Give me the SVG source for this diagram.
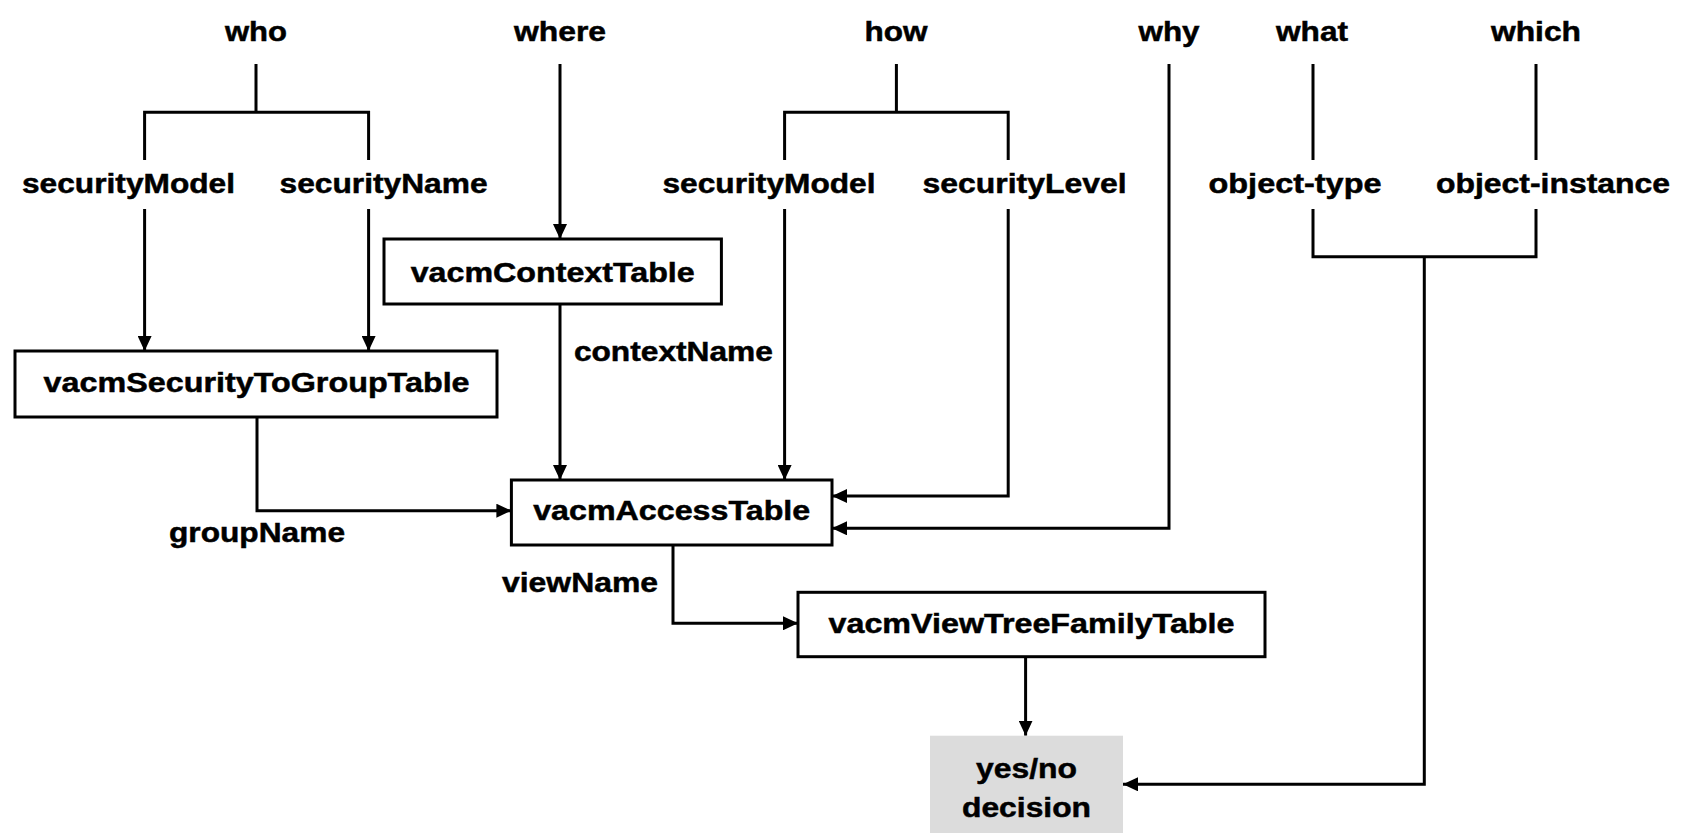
<svg xmlns="http://www.w3.org/2000/svg" width="1681" height="833" viewBox="0 0 1681 833">
  <style>
    text { font-family: "Liberation Sans", Arial, Helvetica, sans-serif; font-weight: 700; font-size: 28px; fill: #000; stroke: #000; stroke-width: 0.5; text-anchor: middle; }
    .box { fill: #fff; stroke: #000; stroke-width: 3; }
    .decision { fill: #dcdcdc; stroke: none; }
    .wire { fill: none; stroke: #000; stroke-width: 3; stroke-linejoin: miter; stroke-linecap: butt; }
  </style>
  <defs>
    <marker id="arrow" markerUnits="userSpaceOnUse" markerWidth="15" markerHeight="14" refX="15" refY="7" orient="auto">
      <path d="M0,0 L15,7 L0,14 z" fill="#000"/>
    </marker>
  </defs>
  <rect width="1681" height="833" fill="#fff"/>

  <!-- question labels -->
  <g id="labels">
    <text x="256" y="41" textLength="62" lengthAdjust="spacingAndGlyphs">who</text>
    <text x="560" y="41" textLength="92" lengthAdjust="spacingAndGlyphs">where</text>
    <text x="896" y="41" textLength="63" lengthAdjust="spacingAndGlyphs">how</text>
    <text x="1169" y="41" textLength="61" lengthAdjust="spacingAndGlyphs">why</text>
    <text x="1312" y="41" textLength="72" lengthAdjust="spacingAndGlyphs">what</text>
    <text x="1536" y="41" textLength="90" lengthAdjust="spacingAndGlyphs">which</text>

    <text x="128.5" y="193" textLength="213" lengthAdjust="spacingAndGlyphs">securityModel</text>
    <text x="383.6" y="193" textLength="208" lengthAdjust="spacingAndGlyphs">securityName</text>
    <text x="769" y="193" textLength="213" lengthAdjust="spacingAndGlyphs">securityModel</text>
    <text x="1024.5" y="193" textLength="204" lengthAdjust="spacingAndGlyphs">securityLevel</text>
    <text x="1295" y="193" textLength="173" lengthAdjust="spacingAndGlyphs">object-type</text>
    <text x="1553" y="193" textLength="234" lengthAdjust="spacingAndGlyphs">object-instance</text>

    <text x="673.4" y="361" textLength="199" lengthAdjust="spacingAndGlyphs">contextName</text>
    <text x="257" y="542" textLength="176" lengthAdjust="spacingAndGlyphs">groupName</text>
    <text x="580" y="592" textLength="156" lengthAdjust="spacingAndGlyphs">viewName</text>
  </g>

  <!-- connectors -->
  <g id="connectors" class="wire">
    <!-- who branches -->
    <path class="wire" d="M256,64 V112.3 M144.6,160 V112.3 H368.6 V160"/>
    <path class="wire" d="M144.6,209 V351" marker-end="url(#arrow)"/>
    <path class="wire" d="M368.6,209 V351" marker-end="url(#arrow)"/>
    <!-- where -->
    <path class="wire" d="M560,64 V239" marker-end="url(#arrow)"/>
    <path class="wire" d="M560,304 V480" marker-end="url(#arrow)"/>
    <!-- groupName -->
    <path class="wire" d="M257,417 V510.7 H511.4" marker-end="url(#arrow)"/>
    <!-- how branches -->
    <path class="wire" d="M896.4,64 V112.3 M784.6,160 V112.3 H1008.2 V160"/>
    <path class="wire" d="M784.6,209 V480" marker-end="url(#arrow)"/>
    <path class="wire" d="M1008.2,209 V496 H832" marker-end="url(#arrow)"/>
    <!-- why -->
    <path class="wire" d="M1169,64 V528.3 H832" marker-end="url(#arrow)"/>
    <!-- viewName -->
    <path class="wire" d="M673,545 V623.3 H798" marker-end="url(#arrow)"/>
    <!-- view tree to decision -->
    <path class="wire" d="M1025.6,656.7 V735.7" marker-end="url(#arrow)"/>
    <!-- what / which -->
    <path class="wire" d="M1313,64 V160 M1536,64 V160"/>
    <path class="wire" d="M1313,209 V256.7 H1536 V209 M1424.3,256.7 V784.3 H1123" marker-end="url(#arrow)"/>
  </g>

  <g id="vacmContextTable">
    <rect class="box" x="384" y="239" width="337.4" height="65"/>
    <text x="552.7" y="281.5" textLength="284" lengthAdjust="spacingAndGlyphs">vacmContextTable</text>
  </g>

  <g id="vacmSecurityToGroupTable">
    <rect class="box" x="15" y="351" width="482" height="66"/>
    <text x="256.6" y="392" textLength="426" lengthAdjust="spacingAndGlyphs">vacmSecurityToGroupTable</text>
  </g>

  <g id="vacmAccessTable">
    <rect class="box" x="511.4" y="480" width="320.6" height="65"/>
    <text x="671.7" y="520" textLength="277" lengthAdjust="spacingAndGlyphs">vacmAccessTable</text>
  </g>

  <g id="vacmViewTreeFamilyTable">
    <rect class="box" x="798" y="592.3" width="467" height="64.4"/>
    <text x="1031.5" y="633.3" textLength="406" lengthAdjust="spacingAndGlyphs">vacmViewTreeFamilyTable</text>
  </g>

  <g id="decision">
    <rect class="decision" x="930" y="735.7" width="193" height="100"/>
    <text x="1026.5" y="778.3" textLength="101" lengthAdjust="spacingAndGlyphs">yes/no</text>
    <text x="1026.5" y="816.7" textLength="129" lengthAdjust="spacingAndGlyphs">decision</text>
  </g>
</svg>
